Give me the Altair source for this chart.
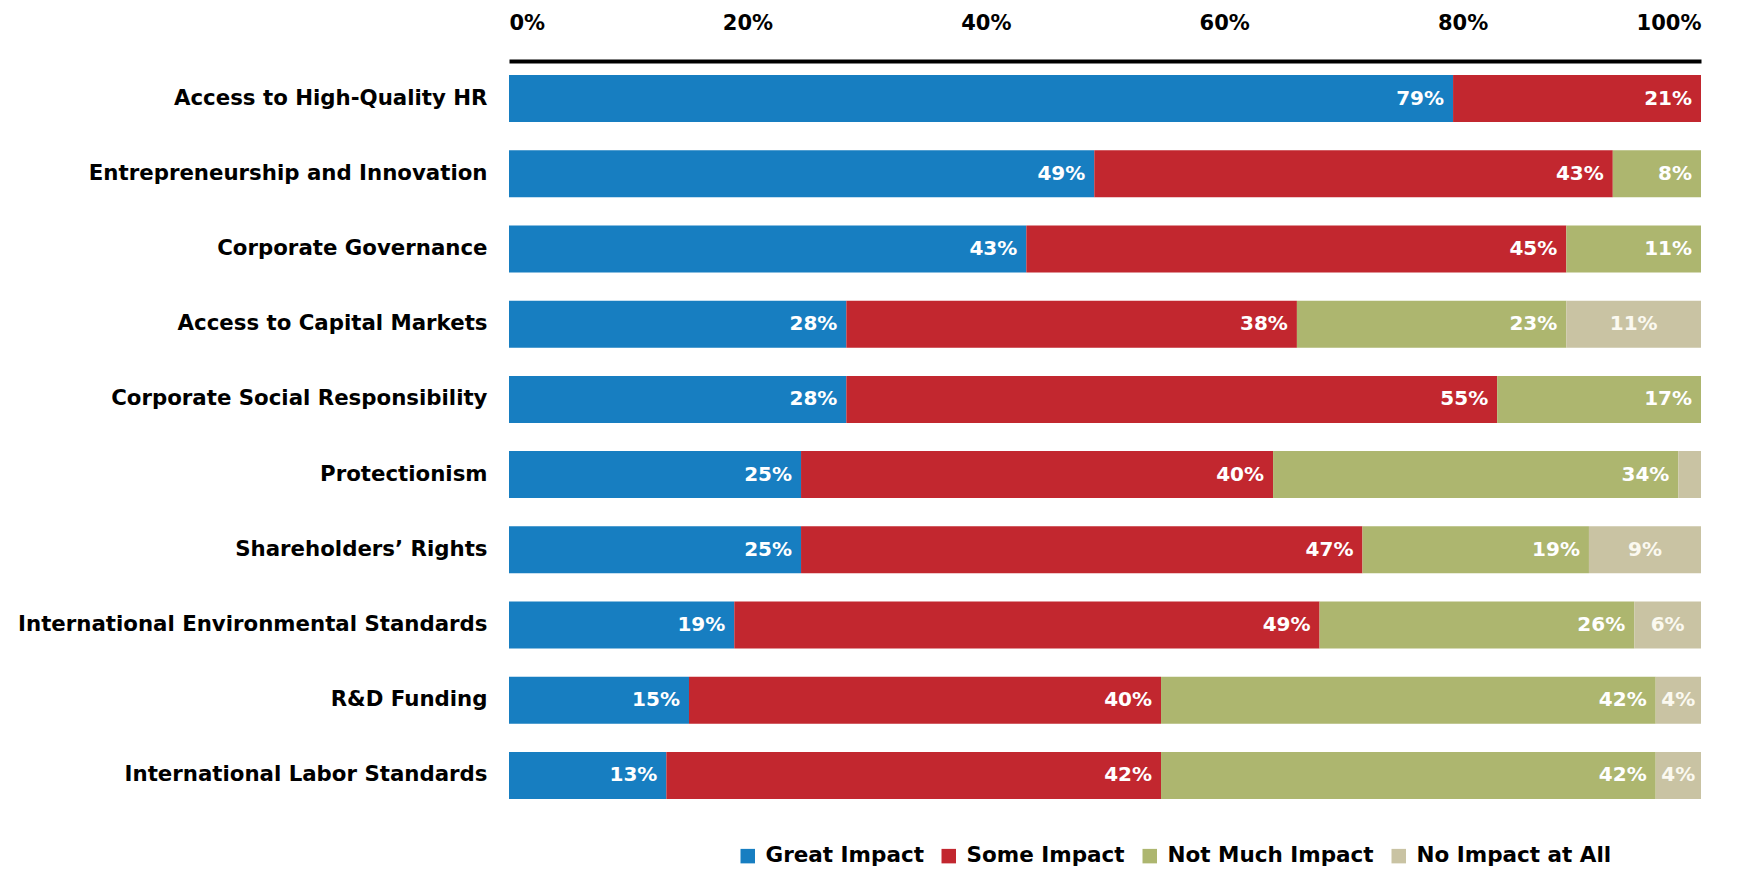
import altair as alt
import pandas as pd

categories = [
    "Access to High-Quality HR",
    "Entrepreneurship and Innovation",
    "Corporate Governance",
    "Access to Capital Markets",
    "Corporate Social Responsibility",
    "Protectionism",
    "Shareholders’ Rights",
    "International Environmental Standards",
    "R&D Funding",
    "International Labor Standards",
]
series = ["Great Impact", "Some Impact", "Not Much Impact", "No Impact at All"]
colors = ["#177EC1", "#C2272F", "#ADB66F", "#C9C3A3"]

great = [79.2, 49.1, 43.4, 28.3, 28.3, 24.5, 24.5, 18.9, 15.1, 13.2]
some = [20.8, 43.5, 45.3, 37.8, 54.6, 39.6, 47.1, 49.1, 39.6, 41.5]
not_much = [0, 7.4, 11.3, 22.6, 17.1, 34.0, 19.0, 26.4, 41.5, 41.5]
no_impact = [0, 0, 0, 11.3, 0, 1.9, 9.4, 5.6, 3.8, 3.8]

great_lbl = ["79%", "49%", "43%", "28%", "28%", "25%", "25%", "19%", "15%", "13%"]
some_lbl = ["21%", "43%", "45%", "38%", "55%", "40%", "47%", "49%", "40%", "42%"]
not_much_lbl = ["", "8%", "11%", "23%", "17%", "34%", "19%", "26%", "42%", "42%"]
no_impact_lbl = ["", "", "", "11%", "", "", "9%", "6%", "4%", "4%"]

values = [great, some, not_much, no_impact]
labels = [great_lbl, some_lbl, not_much_lbl, no_impact_lbl]

rows = []
for ci, cat in enumerate(categories):
    start = 0.0
    for si, s in enumerate(series):
        v = values[si][ci]
        if v > 0:
            rows.append({
                "category": cat, "series": s, "order": si,
                "start": start, "end": start + v, "mid": start + v / 2,
                "label": labels[si][ci],
            })
        start += v
df = pd.DataFrame(rows)

FONT = "DejaVu Sans"

y_enc = alt.Y("category:N", sort=categories, title=None,
              scale=alt.Scale(paddingInner=0.375, paddingOuter=0.1875),
              axis=alt.Axis(domain=False, ticks=False, labelFontSize=21.3,
                            labelFontWeight="bold", labelColor="#000000",
                            labelPadding=22, labelFont=FONT, labelLimit=700))

bars = alt.Chart(df).mark_bar(size=47).encode(
    x=alt.X("start:Q", scale=alt.Scale(domain=[0, 100], nice=False, padding=0),
            title=None,
            axis=alt.Axis(orient="top", values=[0, 20, 40, 60, 80, 100],
                          labelExpr="datum.value + '%'", grid=False, ticks=False,
                          domainColor="#000000", domainWidth=4,
                          labelFontSize=21, labelFontWeight="bold",
                          labelColor="#000000", labelPadding=28, labelFont=FONT)),
    x2="end:Q",
    y=y_enc,
    color=alt.Color("series:N", sort=series,
                    scale=alt.Scale(domain=series, range=colors),
                    legend=alt.Legend(title=None, orient="none", direction="horizontal",
                                      legendX=228, legendY=784,
                                      symbolType="square", symbolSize=210,
                                      symbolStrokeWidth=0, symbolOpacity=1,
                                      labelFontSize=21.5, labelFontWeight="bold",
                                      labelColor="#000000", labelFont=FONT,
                                      labelLimit=400,
                                      columnPadding=14, labelOffset=7)),
    order=alt.Order("order:Q"),
)

txt_end = alt.Chart(df).transform_filter("datum.order < 3").mark_text(
    align="right", baseline="middle", dx=-9, color="#ffffff",
    fontSize=20, fontWeight="bold", font=FONT
).encode(x="end:Q", y=alt.Y("category:N", sort=categories), text="label:N")

txt_mid = alt.Chart(df).transform_filter("datum.order == 3").mark_text(
    align="center", baseline="middle", color="#FBF9F0",
    fontSize=20, fontWeight="bold", font=FONT
).encode(x="mid:Q", y=alt.Y("category:N", sort=categories), text="label:N")

chart = alt.layer(bars, txt_end, txt_mid).properties(
    width=1192, height=752,
    padding={"left": 17, "top": 12, "right": 5, "bottom": 5},
).configure_view(stroke=None)

chart.save("out.html", embed_options={"renderer": "svg", "actions": False})
